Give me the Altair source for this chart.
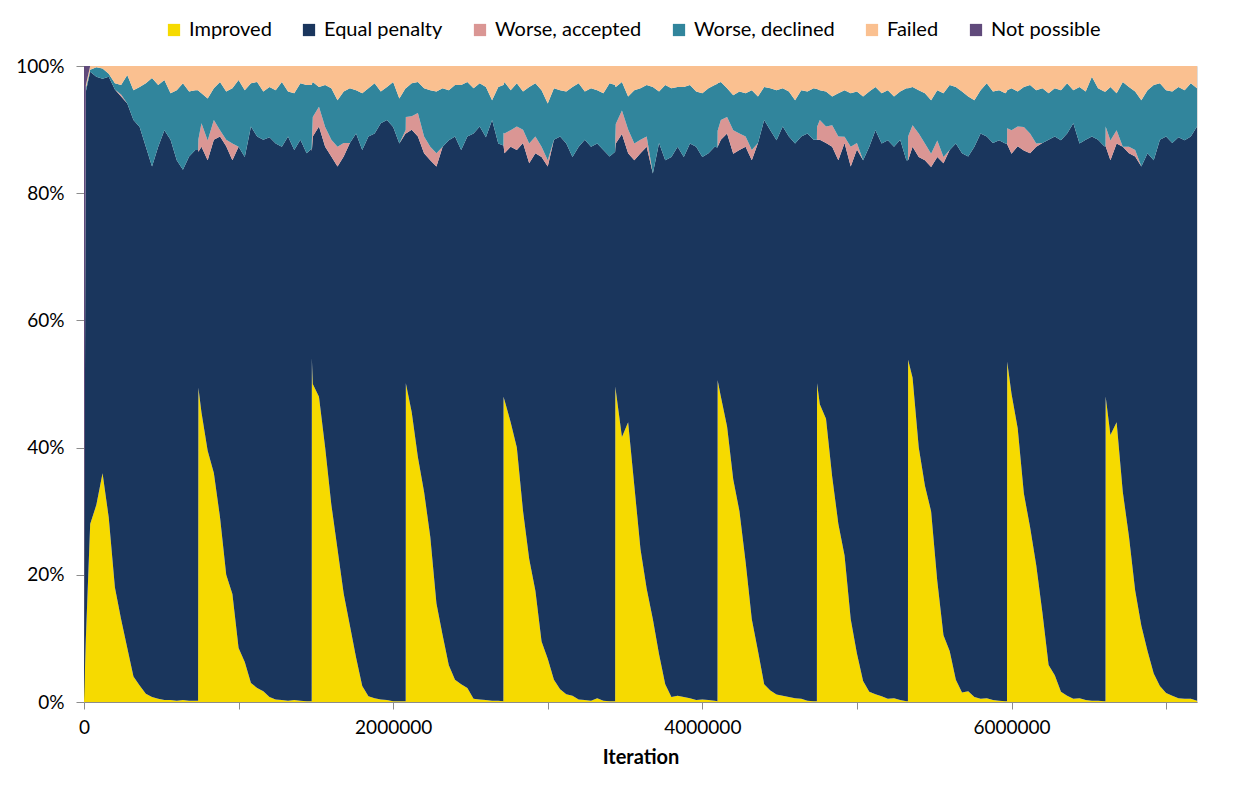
import altair as alt
import pandas as pd

# Iteration (in thousands)
iteration_k = [
    0, 12, 40, 80, 120, 160, 200, 240, 280, 320, 360, 400, 440, 480, 520, 560, 600, 640, 680, 720, 738,
    740, 760, 800, 840, 880, 920, 960, 1000, 1040, 1080, 1120, 1160, 1200, 1240, 1280, 1320, 1360, 1400, 1440, 1473,
    1474, 1480, 1520, 1560, 1600, 1640, 1680, 1720, 1760, 1800, 1840, 1880, 1920, 1960, 2000, 2040, 2080, 2081,
    2082, 2120, 2160, 2200, 2240, 2280, 2320, 2360, 2400, 2440, 2480, 2520, 2560, 2600, 2640, 2680, 2713,
    2714, 2720, 2760, 2800, 2840, 2880, 2920, 2960, 3000, 3040, 3080, 3120, 3160, 3200, 3240, 3280, 3320, 3360, 3400, 3436,
    3437, 3440, 3480, 3520, 3560, 3600, 3640, 3680, 3720, 3760, 3800, 3840, 3880, 3920, 3960, 4000, 4040, 4080, 4098,
    4099, 4120, 4160, 4200, 4240, 4280, 4320, 4360, 4400, 4440, 4480, 4520, 4560, 4600, 4640, 4680, 4720, 4741,
    4742, 4760, 4800, 4840, 4880, 4920, 4960, 5000, 5040, 5080, 5120, 5160, 5200, 5240, 5280, 5320, 5330,
    5331, 5360, 5400, 5440, 5480, 5520, 5560, 5600, 5640, 5680, 5720, 5760, 5800, 5840, 5880, 5920, 5960, 5971,
    5972, 6000, 6040, 6080, 6120, 6160, 6200, 6240, 6280, 6320, 6360, 6400, 6440, 6480, 6520, 6560, 6600, 6608,
    6609, 6640, 6680, 6720, 6760, 6800, 6840, 6880, 6920, 6960, 7000, 7040, 7080, 7120, 7160, 7200,
]

improved = [
    0, 10, 28, 31, 36, 29, 18, 13, 8.5, 4, 2.6, 1.3, 0.8, 0.5, 0.3, 0.3, 0.2, 0.3, 0.2, 0.2, 0.2,
    49.4, 45.5, 39.5, 36, 29, 20, 17, 8.5, 6.3, 3, 2.2, 1.7, 0.8, 0.4, 0.3, 0.2, 0.3, 0.2, 0.1, 0.1,
    53.5, 50, 48, 40, 31, 24, 17, 12, 7, 2.5, 0.9, 0.6, 0.4, 0.3, 0.1, 0.1, 0.1, 0.1,
    50.1, 45.5, 38.5, 33, 26, 15.5, 10.5, 5.8, 3.5, 2.8, 2.2, 0.5, 0.4, 0.3, 0.2, 0.2, 0.1,
    48, 47.5, 44, 40, 30, 22.5, 17.5, 9.5, 6.8, 3.5, 2, 1.2, 1, 0.4, 0.3, 0.2, 0.6, 0.2, 0.1, 0.1,
    49.6, 49, 41.7, 44, 34, 24, 17.8, 13, 7.5, 2.8, 0.8, 1, 0.8, 0.6, 0.3, 0.4, 0.3, 0.2, 0.1,
    50.6, 48, 43.3, 35, 30, 22, 13, 8, 2.8, 1.8, 1.2, 1, 0.8, 0.6, 0.5, 0.2, 0.1, 0.1,
    50.1, 46.8, 44.5, 35.4, 28, 23, 13, 7.6, 3.3, 1.6, 1.2, 0.9, 0.5, 0.6, 0.3, 0.1, 0.1,
    53.8, 51, 40, 34, 30, 19, 10.5, 8, 3.5, 1.5, 1.7, 0.8, 0.5, 0.6, 0.3, 0.2, 0.1, 0.1,
    53.5, 48.5, 43, 32.8, 27.5, 21.5, 14, 5.8, 4.2, 1.6, 1, 0.5, 0.6, 0.3, 0.2, 0.2, 0.1, 0.1,
    48, 42, 44, 33, 26, 17.5, 12, 8, 4.5, 2.5, 1.4, 1, 0.6, 0.5, 0.5, 0.2,
]

equal_penalty = [
    0, 86, 71.1, 67.3, 62.1, 69.3, 78.2, 82.2, 85.6, 87.5, 87.9, 86.0, 83.4, 86.8, 89.6, 88.1, 85.0, 83.3, 85.5, 86.6, 86.6,
    37.1, 41.8, 45.7, 52.4, 59.9, 67.3, 68.2, 78.8, 79.4, 87.5, 86.7, 86.7, 88.1, 87.4, 87.0, 88.7, 86.5, 88.2, 86.2, 86.9,
    32.2, 38.9, 42.5, 47.3, 54.7, 60.2, 68.7, 75.8, 82.4, 84.3, 88.0, 88.8, 90.6, 91.2, 90.4, 87.7, 89.3, 89.3,
    39.3, 44.4, 50.4, 53.3, 59.2, 68.7, 76.8, 82.6, 85.4, 84.0, 86.7, 88.9, 90.1, 88.6, 91.3, 87.6, 87.4,
    39.5, 38.8, 43.3, 46.8, 57.8, 62.2, 68.8, 76.2, 77.4, 84.9, 86.9, 86.6, 84.7, 86.9, 88.1, 87.1, 87.2, 86.6, 85.6, 86.4,
    37.4, 38.8, 47.7, 42.3, 51.2, 62.3, 69.5, 70.1, 80.3, 82.4, 84.9, 86.3, 84.9, 87.2, 87.0, 85.3, 86.0, 87.1, 87.1,
    36.7, 40.4, 46.1, 51.3, 56.8, 65.3, 72.2, 79.8, 88.7, 88.1, 87.2, 89.5, 88.1, 87.2, 88.4, 89.2, 88.3, 88.3,
    38.3, 41.6, 43.3, 51.9, 57.2, 64.8, 71.2, 79.2, 81.9, 85.7, 88.7, 86.9, 87.9, 86.7, 88.1, 85.1, 85.1,
    31.4, 36.3, 45.7, 51.2, 54.2, 66.7, 74.2, 78.8, 84.3, 84.8, 84.0, 86.5, 88.9, 88.3, 87.5, 88.2, 87.7, 87.7,
    34.2, 37.8, 44.3, 54.0, 58.8, 65.8, 73.8, 82.6, 84.7, 86.8, 88.4, 90.5, 87.2, 88.1, 88.7, 88.2, 87.2, 87.2,
    39.3, 43.2, 43.8, 54.3, 60.3, 68.2, 72.2, 78.3, 80.7, 85.9, 87.5, 86.8, 88.3, 87.9, 88.4, 90.3,
]

worse_accepted = [
    0, 0, 0, 0, 0, 0, 0, 0.3, 0, 0, 0, 0, 0, 0, 0, 0, 0, 0, 0, 0, 0,
    2.0, 3.7, 3.1, 3.1, 1.0, 1.0, 2.6, 0, 0, 0, 0, 0, 0, 0, 0, 0, 0, 0, 0, 0,
    1.5, 3.1, 3.1, 3.1, 2.6, 3.1, 2.1, 0, 0, 0, 0, 0, 0, 0, 0, 0, 0.5, 0.5,
    2.6, 2.1, 3.7, 2.6, 2.1, 2.1, 0, 0, 0, 0, 0, 0, 0, 0, 0, 0, 0,
    2.0, 3.1, 2.6, 3.7, 2.1, 3.1, 2.6, 1.6, 1.0, 0, 0, 0, 0, 0, 0, 0, 0, 0, 0, 0,
    1.5, 3.1, 3.7, 3.7, 2.6, 2.1, 1.6, 0, 0, 0, 0, 0, 0, 0, 0, 0, 0, 0, 0,
    2.5, 3.1, 2.6, 3.7, 2.6, 1.6, 1.6, 0, 0, 0, 0, 0, 0, 0, 0, 0, 0, 0,
    2.0, 3.1, 2.6, 3.4, 3.7, 1.0, 3.1, 1.0, 0, 0, 0, 0, 0, 0, 0, 0, 0,
    3.7, 3.4, 3.7, 2.6, 2.1, 2.6, 1.0, 0, 0, 0, 0, 0, 0, 0, 0, 0, 0, 0,
    2.5, 3.7, 3.1, 3.7, 3.1, 0.5, 0, 0, 0, 0, 0, 0, 0, 0, 0, 0, 0, 0,
    3.1, 3.1, 2.1, 0, 1.0, 1.0, 0, 0, 0, 0, 0, 0, 0, 0, 0, 0,
]

worse_declined = [
    0, 0.5, 0.3, 1.5, 1.6, 0.5, 1.0, 1.5, 4.5, 4.7, 6.3, 10.0, 13.9, 9.7, 7.9, 7.3, 11.0, 13.6, 10.2, 9.4, 9.4,
    7.6, 4.7, 6.6, 5.0, 7.6, 7.6, 8.7, 10.5, 10.5, 6.8, 8.6, 7.6, 7.9, 8.4, 10.2, 7.1, 8.9, 8.9, 10.7, 10.0,
    9.0, 5.5, 3.1, 6.6, 8.1, 7.3, 8.1, 8.6, 6.8, 8.9, 7.6, 7.9, 5.0, 5.2, 7.1, 7.1, 6.6, 6.6,
    4.5, 5.2, 4.9, 7.6, 8.9, 9.7, 9.2, 7.9, 8.1, 10.2, 8.6, 7.1, 6.8, 7.9, 3.1, 8.9, 9.5,
    7.5, 8.1, 6.3, 6.8, 6.0, 8.9, 8.4, 8.9, 8.9, 8.1, 7.3, 8.2, 11.0, 10.0, 7.6, 9.2, 8.4, 8.9, 11.5, 10.5,
    8.3, 5.8, 4.5, 5.2, 8.4, 8.1, 8.1, 13.6, 8.1, 11.8, 10.8, 9.4, 11.0, 9.2, 8.7, 10.0, 10.2, 9.7, 10.0,
    7.5, 6.0, 4.5, 5.5, 6.6, 6.8, 9.4, 7.3, 5.2, 6.6, 7.9, 6.0, 7.1, 6.8, 7.3, 6.6, 8.1, 8.0,
    6.0, 4.7, 5.5, 4.5, 6.8, 7.3, 8.4, 8.1, 10.0, 8.7, 6.8, 7.9, 7.9, 7.9, 7.6, 11.3, 11.3,
    7.6, 6.0, 6.8, 7.9, 8.4, 7.9, 10.0, 10.2, 8.9, 9.7, 9.4, 7.3, 6.8, 8.4, 8.1, 7.9, 7.9, 8.2,
    6.0, 6.6, 5.5, 6.3, 7.6, 8.4, 8.6, 7.3, 7.6, 7.9, 7.9, 5.2, 8.9, 7.6, 9.4, 8.1, 8.6, 8.6,
    5.5, 8.4, 5.8, 10.2, 9.4, 9.2, 10.4, 9.9, 11.8, 8.9, 7.3, 8.1, 7.9, 7.9, 8.4, 6.0,
]

failed = [
    0, 0.5, 0.6, 0.2, 0.4, 1.2, 2.7, 3.0, 1.4, 3.8, 3.3, 2.7, 1.9, 3.0, 2.2, 4.3, 3.8, 2.7, 4.0, 3.8, 3.8,
    3.9, 4.3, 5.1, 3.5, 2.5, 4.0, 3.5, 2.2, 3.8, 2.7, 2.5, 4.0, 3.3, 3.8, 2.5, 4.0, 4.3, 2.7, 3.0, 3.0,
    2.8, 2.5, 3.3, 3.0, 3.5, 5.4, 4.0, 3.5, 3.8, 4.3, 3.5, 2.7, 4.0, 3.3, 2.5, 5.1, 3.5, 3.5,
    3.5, 2.7, 2.5, 3.5, 3.8, 4.0, 3.5, 3.8, 3.0, 3.0, 2.5, 3.5, 2.7, 3.3, 5.4, 3.3, 3.0,
    3.0, 2.5, 3.8, 2.7, 4.0, 3.3, 2.7, 3.8, 5.9, 3.5, 3.8, 4.0, 3.3, 2.7, 4.0, 3.5, 3.8, 4.3, 2.7, 3.0,
    3.2, 3.3, 2.5, 4.8, 3.8, 3.5, 3.0, 3.3, 4.0, 3.0, 3.5, 3.3, 3.3, 3.0, 4.0, 4.3, 3.5, 3.0, 2.8,
    2.7, 2.5, 3.5, 4.6, 4.0, 4.3, 3.8, 4.8, 3.3, 3.5, 3.8, 3.5, 4.0, 5.4, 3.8, 4.0, 3.5, 3.6,
    3.6, 3.8, 4.0, 4.8, 4.3, 3.8, 4.3, 4.0, 4.8, 4.0, 3.3, 4.3, 3.8, 4.8, 4.0, 3.5, 3.5,
    3.5, 3.3, 3.8, 4.3, 5.4, 3.8, 4.3, 3.0, 3.3, 4.0, 4.8, 5.4, 3.8, 2.7, 4.0, 3.8, 4.3, 4.0,
    3.8, 3.5, 4.0, 3.3, 3.0, 3.8, 3.5, 4.3, 3.5, 3.8, 2.7, 3.8, 3.3, 4.0, 1.7, 3.5, 4.0, 4.0,
    4.0, 3.3, 4.3, 2.5, 3.3, 4.0, 5.4, 3.8, 3.0, 2.7, 3.8, 4.0, 3.3, 3.8, 2.7, 3.5,
]

not_possible = [100, 3] + [0] * 200

series_names = ["Improved", "Equal penalty", "Worse, accepted", "Worse, declined", "Failed", "Not possible"]
series_colors = ["#F6DA00", "#1A365D", "#DA9694", "#31859C", "#FAC090", "#604A7B"]
series_values = [improved, equal_penalty, worse_accepted, worse_declined, failed, not_possible]

x_ticks = [0, 1000000, 2000000, 3000000, 4000000, 5000000, 6000000, 7000000]
y_ticks = [0, 0.2, 0.4, 0.6, 0.8, 1.0]

rows = []
for idx, (name, vals) in enumerate(zip(series_names, series_values)):
    for xk, v in zip(iteration_k, vals):
        rows.append({"Iteration": xk * 1000, "Share": v, "Series": name, "ord": idx})
df = pd.DataFrame(rows)

FONT = "Lato"
AXIS_GRAY = "#8C8C8C"

chart = alt.Chart(df).mark_area(interpolate="linear").encode(
    x=alt.X(
        "Iteration:Q",
        scale=alt.Scale(domain=[0, 7200000], nice=False, zero=False),
        axis=alt.Axis(
            values=x_ticks,
            labelExpr="datum.value % 2000000 === 0 ? format(datum.value, 'd') : ''",
            grid=False,
            title="Iteration",
            titleFont=FONT,
            titleFontSize=20,
            titleFontWeight="bold",
            titleColor="#000000",
            titlePadding=10,
            labelFont=FONT,
            labelFontSize=19,
            labelColor="#000000",
            labelPadding=9,
            labelFlush=False,
            labelOverlap=False,
            domainColor=AXIS_GRAY,
            tickColor=AXIS_GRAY,
            tickSize=7,
        ),
    ),
    y=alt.Y(
        "Share:Q",
        stack="normalize",
        scale=alt.Scale(domain=[0, 1], nice=False),
        axis=alt.Axis(
            values=y_ticks,
            format=".0%",
            grid=False,
            title=None,
            labelFont=FONT,
            labelFontSize=19,
            labelColor="#000000",
            labelPadding=12,
            labelFlush=False,
            domainColor=AXIS_GRAY,
            tickColor=AXIS_GRAY,
            tickSize=8,
        ),
    ),
    color=alt.Color(
        "Series:N",
        scale=alt.Scale(domain=series_names, range=series_colors),
        legend=alt.Legend(
            title=None,
            orient="none",
            legendX=80,
            legendY=-46,
            direction="horizontal",
            symbolType="square",
            symbolSize=150,
            symbolStrokeWidth=0,
            symbolOpacity=1,
            labelFont=FONT,
            labelFontSize=20,
            labelColor="#000000",
            labelOffset=5,
            columnPadding=27,
        ),
    ),
    order=alt.Order("ord:Q", sort="ascending"),
).properties(
    width=1113,
    height=636,
    autosize=alt.AutoSizeParams(type="none"),
    padding={"left": 84, "top": 66, "right": 51, "bottom": 83},
).configure_view(strokeWidth=0).configure(background="#FFFFFF")

chart.save("out.html", embed_options={"renderer": "svg", "actions": False})
